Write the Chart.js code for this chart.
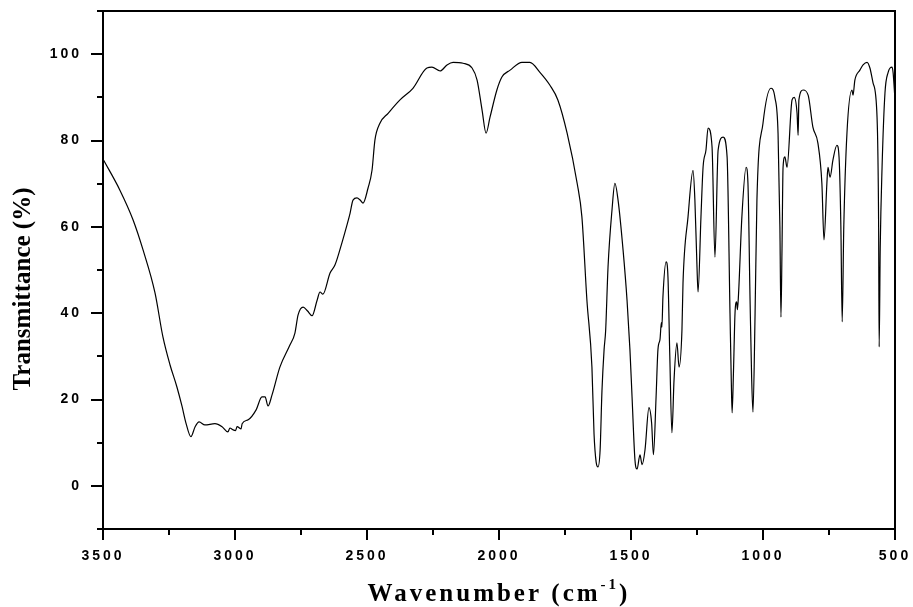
<!DOCTYPE html>
<html>
<head>
<meta charset="utf-8">
<script src="https://cdn.jsdelivr.net/npm/chart.js@4.4.0/dist/chart.umd.min.js"></script>
<style>
  html, body { margin: 0; padding: 0; background: #fff; }
</style>
</head>
<body>
<canvas id="chart" width="913" height="607"></canvas>
<script>
'use strict';

// spectrum, wavenumber (cm-1) vs transmittance (%)
const wavenumbers = [
  3500, 3436, 3386, 3348, 3303, 3273, 3246, 3220, 3201, 3186,
  3167, 3151, 3136, 3114, 3076, 3049, 3027, 3019, 3008, 2998,
  2992, 2977, 2973, 2950, 2920, 2898, 2886, 2875, 2860, 2830,
  2792, 2773, 2761, 2742, 2725, 2708, 2689, 2678, 2667, 2640,
  2621, 2595, 2576, 2564, 2553, 2538, 2526, 2515, 2496, 2481,
  2470, 2451, 2420, 2375, 2326, 2273, 2254, 2223, 2197, 2174,
  2136, 2102, 2083, 2064, 2049, 2034, 2008, 1989, 1958, 1913,
  1883, 1845, 1807, 1777, 1742, 1704, 1686, 1667, 1648, 1640,
  1632, 1625, 1617, 1610, 1602, 1596, 1587, 1572, 1561, 1549,
  1530, 1515, 1504, 1496, 1485, 1477, 1466, 1458, 1447, 1432,
  1422, 1415, 1405, 1398, 1390, 1385, 1383, 1379, 1367, 1360,
  1353, 1345, 1337, 1326, 1318, 1307, 1303, 1284, 1265, 1258,
  1250, 1246, 1235, 1227, 1216, 1208, 1193, 1182, 1170, 1151,
  1136, 1125, 1120, 1117, 1112, 1106, 1100, 1097, 1093, 1080,
  1064, 1057, 1049, 1043, 1038, 1030, 1023, 1000, 970, 955,
  943, 936, 932, 928, 924, 917, 909, 890, 882, 871,
  867, 864, 848, 829, 811, 792, 777, 769, 758, 754,
  746, 735, 720, 712, 705, 700, 694, 682, 663, 659,
  652, 633, 621, 606, 595, 583, 568, 562, 560, 556,
  549, 538, 526, 511, 507, 500
];

const transmittance = [
  75.7, 68.5, 61.6, 54.6, 44.7, 34.5, 28.0, 22.9, 18.5, 14.6,
  11.4, 13.7, 14.8, 14.1, 14.4, 13.7, 12.5, 13.4, 13.0, 12.8,
  13.7, 13.2, 14.4, 15.3, 17.6, 20.6, 20.6, 18.5, 21.0, 27.5,
  32.6, 35.4, 39.6, 41.4, 40.5, 39.4, 43.0, 44.9, 44.4, 49.3,
  51.2, 56.3, 60.4, 63.2, 66.2, 66.7, 66.2, 65.5, 69.0, 73.1,
  80.1, 84.0, 86.3, 89.4, 92.1, 96.8, 97.0, 96.1, 97.5, 98.1,
  97.9, 96.8, 94.0, 87.0, 81.7, 85.4, 91.7, 94.7, 96.3, 98.1,
  98.1, 95.8, 92.8, 89.4, 81.7, 70.1, 62.3, 43.0, 27.5, 12.0,
  5.5, 4.4, 8.3, 22.0, 31.5, 36.0, 50.7, 63.9, 70.1, 66.2,
  54.6, 43.0, 31.5, 20.6, 6.0, 3.9, 7.2, 4.9, 8.3, 18.1,
  14.6, 7.2, 20.6, 31.5, 34.0, 37.8, 36.8, 43.8, 51.9, 48.4,
  30.0, 12.3, 24.5, 33.1, 27.5, 36.1, 47.0, 62.3, 73.1, 66.2,
  50.7, 44.9, 62.3, 73.8, 77.8, 82.9, 78.5, 53.0, 77.8, 80.8,
  76.2, 40.0, 24.0, 16.9, 26.0, 40.0, 42.6, 40.8, 44.0, 62.3,
  73.8, 70.1, 43.0, 25.0, 17.1, 40.0, 66.2, 84.0, 92.1, 90.0,
  81.7, 60.0, 39.1, 55.0, 73.8, 76.2, 73.8, 89.4, 90.0, 86.3,
  81.2, 89.4, 91.7, 90.5, 83.1, 79.4, 70.1, 57.0, 70.1, 73.8,
  71.5, 75.5, 78.9, 76.2, 60.0, 38.0, 60.0, 81.7, 91.7, 90.5,
  94.0, 96.3, 97.5, 98.1, 96.8, 93.3, 85.4, 60.0, 32.2, 55.0,
  73.8, 91.0, 95.8, 97.0, 95.6, 89.4
];

const xTicks = [3500, 3000, 2500, 2000, 1500, 1000, 500];
const xMinorTicks = [3250, 2750, 2250, 1750, 1250, 750];
const yTicks = [0, 20, 40, 60, 80, 100];
const yMinorTicks = [-10, 10, 30, 50, 70, 90, 110];

const xTitle = 'Wavenumber (cm';
const xTitleSup = '-1';
const xTitleEnd = ')';
const yTitle = 'Transmittance (%)';

const tickFont = { family: '"Liberation Sans", Arial, sans-serif', size: 14, weight: 'bold' };
const titleFont = '"Liberation Serif", "Times New Roman", serif';

// fixed box for an axis, no extra room asked for its labels
const fixBox = (s, w, h) => {
  if (w) s.width = w;
  if (h) s.height = h;
  s.paddingTop = 0;
  s.paddingBottom = 0;
  s.paddingLeft = 0;
  s.paddingRight = 0;
};

// ticks, frame and axis titles, drawn against the chart's own scales
const axisDecor = {
  id: 'axisDecor',
  beforeDraw(chart) {
    chart.ctx.letterSpacing = '3px';
  },
  afterDraw(chart) {
    const { ctx, chartArea: a, scales: { x, y } } = chart;
    ctx.save();
    ctx.letterSpacing = '0px';
    ctx.strokeStyle = '#000';
    ctx.lineWidth = 2;
    ctx.beginPath();
    ctx.moveTo(a.left, a.top);
    ctx.lineTo(a.right, a.top);
    ctx.lineTo(a.right, a.bottom);
    const tickY = (v, len) => {
      const p = Math.round(y.getPixelForValue(v));
      ctx.moveTo(a.left - len, p);
      ctx.lineTo(a.left, p);
    };
    const tickX = (v, len) => {
      const p = Math.round(x.getPixelForValue(v));
      ctx.moveTo(p, a.bottom);
      ctx.lineTo(p, a.bottom + len);
    };
    yTicks.forEach(v => tickY(v, 12));
    yMinorTicks.forEach(v => tickY(v, 6));
    xTicks.forEach(v => tickX(v, 11));
    xMinorTicks.forEach(v => tickX(v, 6));
    ctx.stroke();

    ctx.fillStyle = '#000';
    ctx.textBaseline = 'alphabetic';

    // x title with superscript
    ctx.letterSpacing = '3px';
    ctx.font = 'bold 25px ' + titleFont;
    const mainW = ctx.measureText(xTitle).width;
    const endW = ctx.measureText(xTitleEnd).width;
    ctx.font = 'bold 15px ' + titleFont;
    const supW = ctx.measureText(xTitleSup).width;
    const total = mainW + supW + endW;
    const sx = (a.left + a.right) / 2 - total / 2;
    const base = 601;
    ctx.textAlign = 'left';
    ctx.font = 'bold 25px ' + titleFont;
    ctx.fillText(xTitle, sx, base);
    ctx.font = 'bold 15px ' + titleFont;
    ctx.fillText(xTitleSup, sx + mainW, base - 12);
    ctx.font = 'bold 25px ' + titleFont;
    ctx.fillText(xTitleEnd, sx + mainW + supW, base);

    // y title
    ctx.letterSpacing = '0px';
    ctx.translate(30, 289);
    ctx.rotate(-Math.PI / 2);
    ctx.textAlign = 'center';
    ctx.font = 'bold 25px ' + titleFont;
    ctx.fillText(yTitle, 0, 0);
    ctx.restore();
    ctx.letterSpacing = '0px';
  }
};

new Chart(document.getElementById('chart'), {
  type: 'line',
  data: {
    datasets: [{
      data: wavenumbers.map((w, i) => ({ x: w, y: transmittance[i] })),
      borderColor: '#000',
      borderWidth: 1.2,
      pointRadius: 0,
      fill: false,
      cubicInterpolationMode: 'monotone'
    }]
  },
  options: {
    responsive: false,
    animation: false,
    events: [],
    layout: { padding: { top: 11, right: 18, left: 0, bottom: 0 } },
    plugins: { legend: { display: false }, tooltip: { enabled: false } },
    scales: {
      x: {
        type: 'linear',
        reverse: true,
        min: 500,
        max: 3500,
        afterBuildTicks: s => { s.ticks = xTicks.map(v => ({ value: v })); },
        afterFit: s => fixBox(s, 0, 78),
        grid: { display: false },
        border: { display: true, color: '#000', width: 2 },
        ticks: {
          color: '#000', font: tickFont, padding: 11, maxRotation: 0, autoSkip: false,
          callback: v => String(v)
        }
      },
      y: {
        type: 'linear',
        min: -10,
        max: 110,
        afterBuildTicks: s => { s.ticks = yTicks.map(v => ({ value: v })); },
        afterFit: s => fixBox(s, 103, 0),
        grid: { display: false },
        border: { display: true, color: '#000', width: 2 },
        ticks: {
          color: '#000', font: tickFont, padding: 13, autoSkip: false,
          callback: v => String(v)
        }
      }
    }
  },
  plugins: [axisDecor]
});
</script>
</body>
</html>
